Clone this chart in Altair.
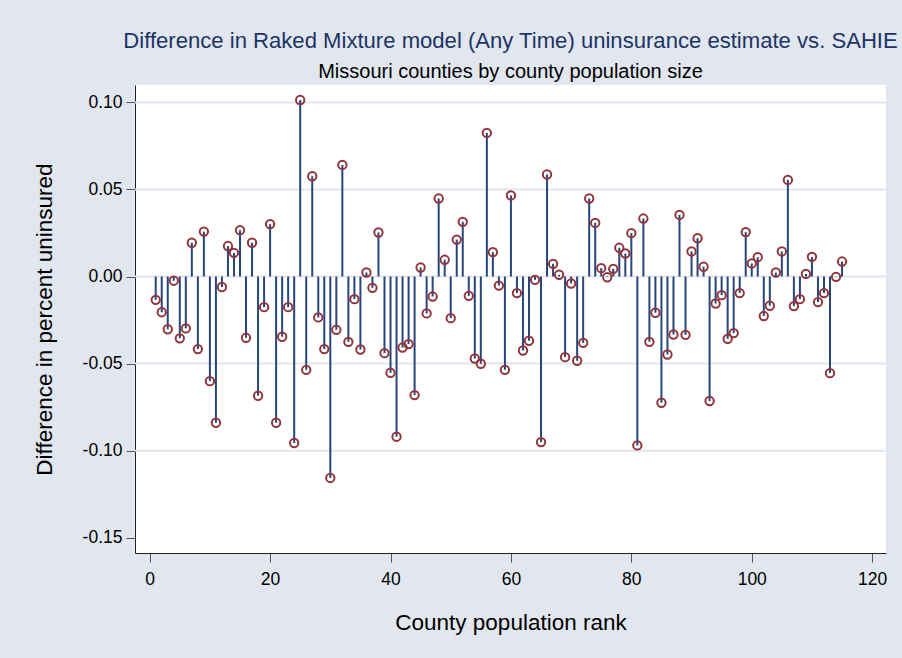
import altair as alt
import pandas as pd

# County population rank (1..115) and difference in percent uninsured
ranks = list(range(1, 116))
diffs = [
    -0.0134, -0.0205, -0.0303, -0.0024, -0.0355, -0.0298, 0.0194, -0.0417, 0.0258, -0.0601,
    -0.0840, -0.0060, 0.0175, 0.0136, 0.0266, -0.0352, 0.0194, -0.0685, -0.0176, 0.0301,
    -0.0840, -0.0346, -0.0176, -0.0956, 0.1014, -0.0536, 0.0576, -0.0235, -0.0417, -0.1157,
    -0.0306, 0.0641, -0.0375, -0.0130, -0.0419, 0.0023, -0.0065, 0.0253, -0.0440, -0.0553,
    -0.0920, -0.0408, -0.0388, -0.0681, 0.0052, -0.0212, -0.0115, 0.0448, 0.0096, -0.0239,
    0.0212, 0.0314, -0.0111, -0.0471, -0.0501, 0.0825, 0.0140, -0.0052, -0.0536, 0.0466,
    -0.0095, -0.0425, -0.0369, -0.0019, -0.0951, 0.0586, 0.0073, 0.0010, -0.0463, -0.0040,
    -0.0484, -0.0381, 0.0448, 0.0308, 0.0048, -0.0004, 0.0044, 0.0165, 0.0132, 0.0249,
    -0.0970, 0.0333, -0.0375, -0.0208, -0.0725, -0.0448, -0.0333, 0.0354, -0.0335, 0.0144,
    0.0220, 0.0056, -0.0715, -0.0155, -0.0107, -0.0358, -0.0325, -0.0095, 0.0255, 0.0075,
    0.0111, -0.0227, -0.0168, 0.0023, 0.0144, 0.0555, -0.0170, -0.0130, 0.0015, 0.0113,
    -0.0147, -0.0095, -0.0555, -0.0002, 0.0086,
]
y_ticks = [-0.15, -0.10, -0.05, 0.0, 0.05, 0.10]
x_ticks = [0, 20, 40, 60, 80, 100, 120]
grid_vals = [-0.10, -0.05, 0.0, 0.05, 0.10]

df = pd.DataFrame({"rank": ranks, "diff": diffs, "zero": [0.0] * len(ranks)})
grid_df = pd.DataFrame({"g": grid_vals})

FONT = "Liberation Sans"
BG = "#E1E6EF"
NAVY = "#284679"
MAROON = "#90353B"

xscale = alt.Scale(domain=[-2.44, 122.3], nice=False, zero=False)
yscale = alt.Scale(domain=[-0.1588, 0.110], nice=False, zero=False)

xaxis = alt.Axis(
    values=x_ticks, title="County population rank", grid=False,
    labelFontSize=17.5, titleFontSize=22.5, labelPadding=8, titlePadding=24,
    tickSize=9, tickColor="#555555", domainColor="#222222", labelColor="#000000",
    titleColor="#000000", titleFontWeight="normal", labelFont=FONT, titleFont=FONT,
)
yaxis = alt.Axis(
    values=y_ticks, title="Difference in percent uninsured", grid=False,
    labelExpr="datum.value < -0.0001 ? '-' + format(-datum.value, '.2f') : format(abs(datum.value), '.2f')",
    labelFontSize=17.5, titleFontSize=22.5, labelPadding=4, titlePadding=26,
    tickSize=9, tickColor="#555555", domainColor="#222222", labelColor="#000000",
    titleColor="#000000", titleFontWeight="normal", labelFont=FONT, titleFont=FONT,
)

grid = alt.Chart(grid_df).mark_rule(color=BG, strokeWidth=2).encode(
    y=alt.Y("g:Q", scale=yscale, axis=yaxis)
)

stems = alt.Chart(df).mark_rule(color=NAVY, strokeWidth=2).encode(
    x=alt.X("rank:Q", scale=xscale, axis=xaxis),
    y=alt.Y("diff:Q", scale=yscale, axis=yaxis),
    y2="zero:Q",
)

points = alt.Chart(df).mark_point(
    shape="circle", filled=False, color=MAROON, size=70, strokeWidth=2, opacity=1
).encode(
    x=alt.X("rank:Q", scale=xscale, axis=xaxis),
    y=alt.Y("diff:Q", scale=yscale, axis=yaxis),
)

chart = alt.layer(grid, stems, points).properties(
    width=751,
    height=468,
    background=BG,
    padding={"left": 135, "top": 85, "right": 16, "bottom": 105},
    autosize=alt.AutoSizeParams(type="none"),
    title=alt.TitleParams(
        text="Difference in Raked Mixture model (Any Time) uninsurance estimate vs. SAHIE",
        subtitle="Missouri counties by county population size",
        anchor="middle", frame="group", font=FONT, fontSize=22.1, fontWeight="normal",
        color="#1C3566", subtitleFont=FONT, subtitleFontSize=20, subtitleColor="#000000",
        subtitlePadding=9, offset=2,
    ),
).configure_view(fill="white", stroke=None)

chart.save("out.html", embed_options={"renderer": "svg", "actions": False})
